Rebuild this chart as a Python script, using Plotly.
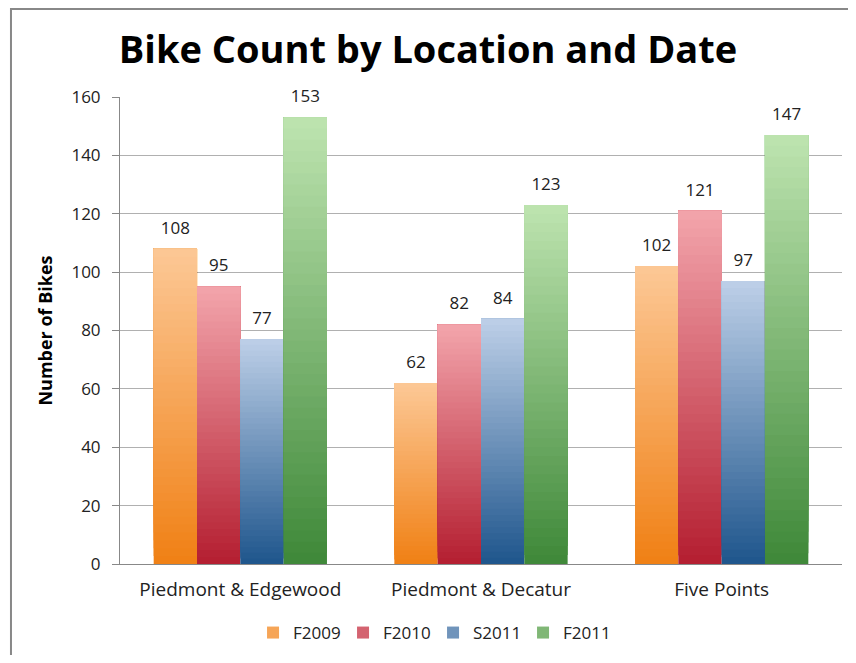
import plotly.graph_objects as go

categories = ["Piedmont & Edgewood", "Piedmont & Decatur", "Five Points"]
series_names = ["F2009", "F2010", "S2011", "F2011"]
f2009 = [108, 62, 102]
f2010 = [95, 82, 121]
s2011 = [77, 84, 97]
f2011 = [153, 123, 147]
series_values = [f2009, f2010, s2011, f2011]

# (top colour, bottom colour) for a vertical gradient like the original
grad = [
    ((252, 200, 150), (240, 128, 20)),
    ((243, 165, 172), (180, 30, 48)),
    ((190, 208, 232), (30, 85, 140)),
    ((190, 228, 176), (62, 136, 56)),
]

N = 40
FONT = "Open Sans"
TXT = "#222"

def mix(c1, c2, t):
    return "rgb(%d,%d,%d)" % tuple(round(a + (b - a) * t) for a, b in zip(c1, c2))

fig = go.Figure()
for s, (name, vals) in enumerate(zip(series_names, series_values)):
    top, bot = grad[s]
    for i in range(N):
        frac = (i + 0.5) / N
        col = mix(bot, top, frac)
        # each slice runs from its start to the top of the bar; later slices cover earlier ones
        fig.add_trace(go.Bar(
            x=categories,
            y=[v * (N - i) / N for v in vals],
            base=[v * i / N for v in vals],
            offsetgroup=name,
            alignmentgroup="bars",
            legendgroup=name,
            name=name,
            showlegend=(i == N // 2),
            marker=dict(color=col, line=dict(width=0)),
            hoverinfo="skip",
        ))

for name, vals in zip(series_names, series_values):
    fig.add_trace(go.Scatter(
        x=categories, y=vals, mode="markers+text",
        text=[str(v) for v in vals], textposition="top center",
        textfont=dict(family=FONT, size=17, color=TXT),
        marker=dict(size=16, opacity=0),
        offsetgroup=name, showlegend=False, cliponaxis=False,
        name=name,
    ))

fig.update_layout(
    width=840, height=647,
    barmode="group", scattermode="group",
    bargap=0.28, bargroupgap=0, scattergap=0.28,
    plot_bgcolor="white", paper_bgcolor="white",
    margin=dict(l=112, r=6, t=89, b=91),
    title=dict(text="<b>Bike Count by Location and Date</b>", x=0.5, xref="container",
               xanchor="center", y=0.935, yref="container", yanchor="middle",
               font=dict(family=FONT, size=38, color="#000")),
    font=dict(family=FONT, size=17, color=TXT),
    legend=dict(orientation="h", x=0.506, xref="container", xanchor="center",
                y=0.034, yref="container", yanchor="middle",
                font=dict(family=FONT, size=17, color=TXT),
                traceorder="normal", itemwidth=30,
                entrywidth=45, entrywidthmode="pixels"),
    showlegend=True,
    xaxis=dict(showline=True, linecolor="#888", linewidth=1, ticks="",
               ticklabelstandoff=8,
               tickfont=dict(family=FONT, size=19, color=TXT)),
    yaxis=dict(range=[0, 160], dtick=20, showgrid=True, gridcolor="#B0B0B0",
               gridwidth=1, showline=True, linecolor="#888", linewidth=1,
               ticks="outside", ticklen=7, tickcolor="#888",
               ticklabelstandoff=8,
               tickfont=dict(family=FONT, size=17, color=TXT),
               title=dict(text="<b>Number of Bikes</b>", standoff=14,
                          font=dict(family=FONT, size=18, color="#000"))),
    shapes=[dict(type="rect", xref="paper", yref="paper",
                 x0=-0.151, x1=1.3, y0=-0.5, y1=1.1884,
                 line=dict(color="#888", width=2), layer="below")],
)

fig.write_html("out.html")
